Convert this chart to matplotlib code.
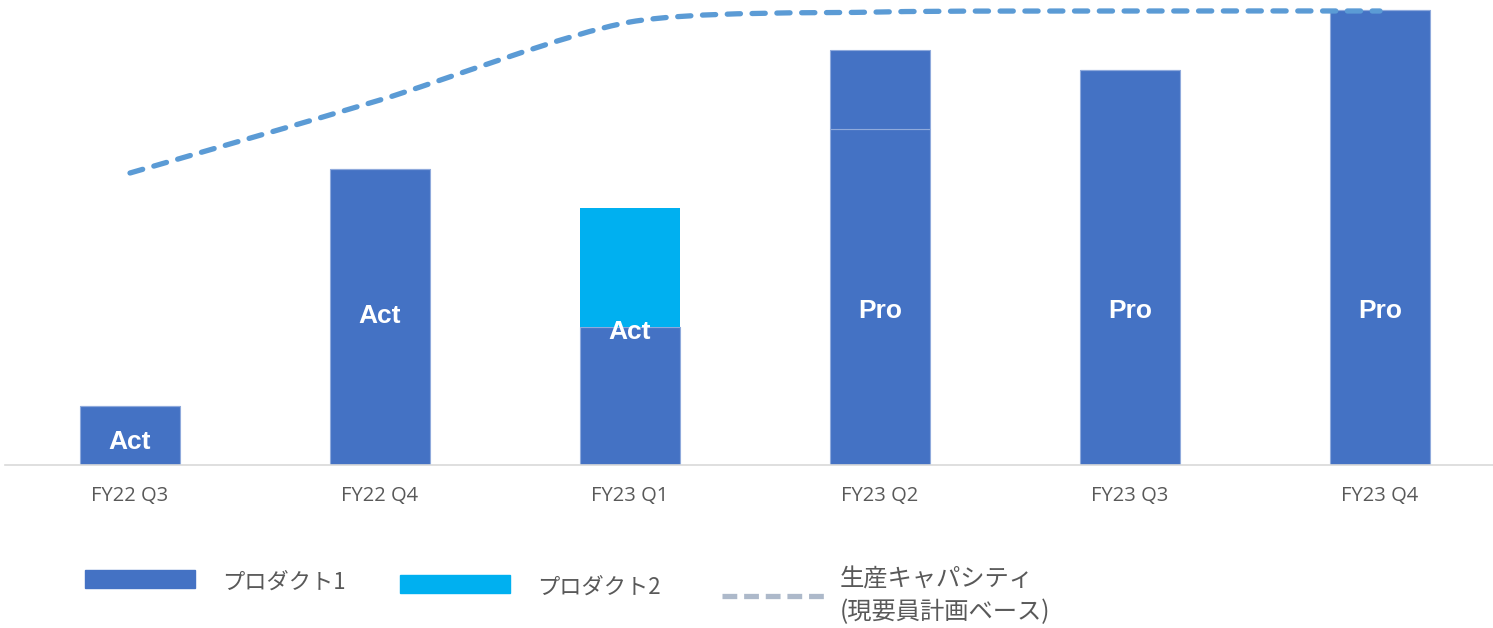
import numpy as np
import matplotlib
matplotlib.use("Agg")
import matplotlib.pyplot as plt
from matplotlib.path import Path
from matplotlib.patches import PathPatch, Rectangle
from matplotlib.lines import Line2D

plt.rcParams["font.family"] = ["Noto Sans CJK JP", "DejaVu Sans"]

# ─── Data ─────────────────────────────────────────────────────────────────────
quarters   = ["FY22 Q3", "FY22 Q4", "FY23 Q1", "FY23 Q2", "FY23 Q3", "FY23 Q4"]
product1   = [59, 296, 138, 336, 395, 455]
product1_b = [0, 0, 0, 79, 0, 0]          # second block of product 1 (FY23 Q2)
product2   = [0, 0, 119, 0, 0, 0]
capacity   = [292, 365, 443, 453, 454, 454]
bar_labels = ["Act", "Act", "Act", "Pro", "Pro", "Pro"]
label_y    = [23, 149, 133, 154, 154, 154]

C_P1   = "#4472C4"
C_P2   = "#00B0F0"
C_LINE = "#5B9BD5"
C_LEG  = "#ADB9CA"
C_TXT  = "#595959"


def smooth_path(xs, ys, k=8.0):
    # bezier smoothing through the points, like Excel's smoothed line
    pts = np.column_stack([xs, ys]).astype(float)
    ext = np.vstack([pts[0], pts, pts[-1]])
    verts, codes = [tuple(pts[0])], [Path.MOVETO]
    for i in range(len(pts) - 1):
        p0, p1, p2, p3 = ext[i], ext[i + 1], ext[i + 2], ext[i + 3]
        c1 = p1 + (p2 - p0) / k
        c2 = p2 - (p3 - p1) / k
        verts += [tuple(c1), tuple(c2), tuple(p2)]
        codes += [Path.CURVE4] * 3
    return Path(verts, codes)


W, H = 1493, 628
fig = plt.figure(figsize=(W / 100, H / 100), dpi=100)
ax = fig.add_axes([5 / W, (H - 465) / H, (W - 5) / W, 465 / H])

x = np.arange(len(quarters))
bw = 0.4
ax.bar(x, product1, width=bw, color=C_P1, edgecolor="#8FAADC", linewidth=0.8, zorder=2)
ax.bar(x, product1_b, bottom=product1, width=bw, color=C_P1,
       edgecolor="#8FAADC", linewidth=0.8, zorder=2)
ax.bar(x, product2, bottom=product1, width=bw, color=C_P2, linewidth=0, zorder=2)

for xi, lab, yl in zip(x, bar_labels, label_y):
    ax.text(xi, yl, lab, ha="center", va="center", color="white",
            fontsize=19, fontweight="bold", family="Liberation Sans", zorder=4)

patch = PathPatch(smooth_path(x, capacity), facecolor="none", edgecolor=C_LINE,
                  linewidth=3.8, linestyle=(0, (2.5, 2.2)), capstyle="round", zorder=3)
ax.add_patch(patch)

ax.set_xlim(-0.5, (W - 130) / 250)
ax.set_ylim(0, 465)
ax.set_xticks(x)
ax.set_xticklabels(quarters, fontsize=14.5, color=C_TXT, family="Open Sans")
ax.tick_params(axis="x", length=0, pad=15)
ax.set_yticks([])
for s in ["top", "right", "left"]:
    ax.spines[s].set_visible(False)
ax.spines["bottom"].set_color("#D9D9D9")
ax.spines["bottom"].set_linewidth(1.2)

# ─── Legend (drawn by hand) ───────────────────────────────────────────────────
def fy(py):
    return 1 - py / H

fig.patches.append(Rectangle((85 / W, fy(588)), 110 / W, 18 / H, color=C_P1,
                             transform=fig.transFigure, figure=fig))
fig.text(222 / W, fy(582), "プロダクト1", fontsize=16, color=C_TXT, va="center")
fig.patches.append(Rectangle((400 / W, fy(593)), 110 / W, 18 / H, color=C_P2,
                             transform=fig.transFigure, figure=fig))
fig.text(537 / W, fy(587), "プロダクト2", fontsize=16, color=C_TXT, va="center")
fig.lines.append(Line2D([722 / W, 828 / W], [fy(596), fy(596)], color=C_LEG,
                        linewidth=3.8, linestyle=(0, (2.8, 1.3)),
                        transform=fig.transFigure, figure=fig))
fig.text(840 / W, fy(596), "生産キャパシティ\n(現要員計画ベース)", fontsize=17.5,
         color=C_TXT, va="center", linespacing=1.3)

fig.savefig("out.png", dpi=100, facecolor="white")
